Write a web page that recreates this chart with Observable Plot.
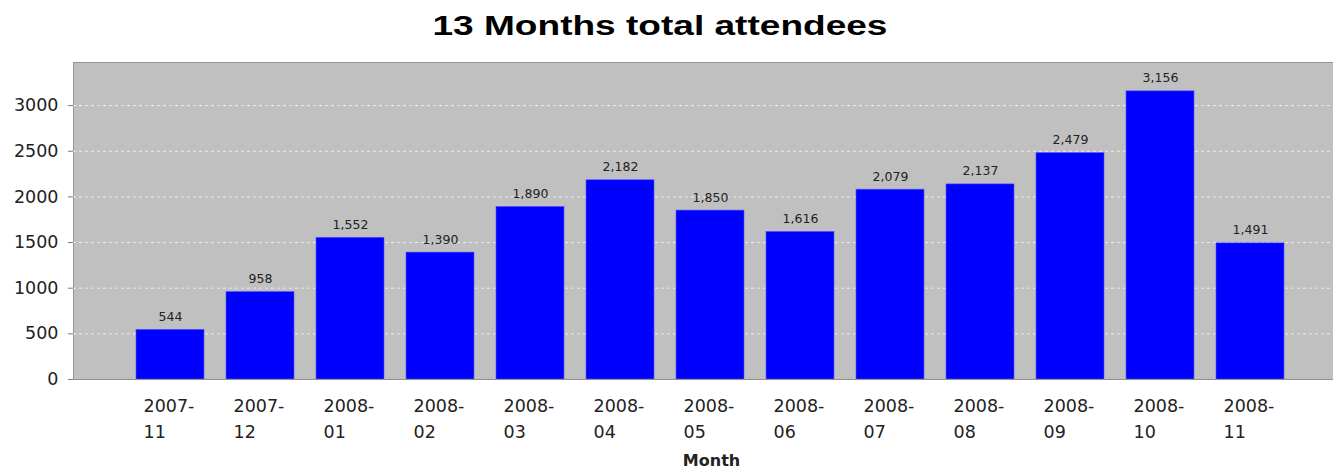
<!DOCTYPE html>
<html>
<head>
<meta charset="utf-8">
<script src="https://cdn.jsdelivr.net/npm/d3@7"></script>
<script src="https://cdn.jsdelivr.net/npm/@observablehq/plot@0.6"></script>
<style>
  html, body { margin: 0; padding: 0; background: #fff; }
  #title { height: 50px; box-sizing: border-box; padding-top: 11px; padding-right: 14px; text-align: center; }
  #title span { display: inline-block; transform: scaleX(1.3); transform-origin: center;
    font: bold 28.5px "Liberation Sans", Arial, sans-serif; line-height: 29px; color: #000; }
  svg { display: block; }
</style>
</head>
<body>
<div id="title"><span>13 Months total attendees</span></div>
<div id="chart"></div>
<script>
const months = ["2007-11","2007-12","2008-01","2008-02","2008-03","2008-04","2008-05","2008-06","2008-07","2008-08","2008-09","2008-10","2008-11"];
const attendees = [544, 958, 1552, 1390, 1890, 2182, 1850, 1616, 2079, 2137, 2479, 3156, 1491];
const yTicks = [0, 500, 1000, 1500, 2000, 2500, 3000];

const data = months.map((m, i) => ({month: m, value: attendees[i]}));
const fmt = d3.format(",");

const chart = Plot.plot({
  width: 1333,
  height: 418,
  marginTop: 12,
  marginBottom: 89,
  marginLeft: 73,
  marginRight: 0,
  style: {fontFamily: "'DejaVu Sans', sans-serif", background: "#fff"},
  x: {domain: months, paddingInner: 0.245, paddingOuter: 0, insetLeft: 63, insetRight: 49},
  y: {domain: [0, 3472]},
  marks: [
    Plot.frame({fill: "#c0c0c0", stroke: "#959595"}),
    Plot.gridY(yTicks.filter(d => d > 0), {stroke: "#ffffff", strokeOpacity: 0.7, strokeDasharray: "3,3", strokeWidth: 1}),
    Plot.barY(data, {x: "month", y: "value", fill: "#0000ff", stroke: "#5050ff", strokeWidth: 0.6}),
    Plot.text(data, {x: "month", y: "value", text: d => fmt(d.value), dy: -9, lineAnchor: "bottom",
      fontSize: 12.5, fill: "#222"}),
    Plot.ruleY([0], {stroke: "#909090"}),
    Plot.axisY({ticks: yTicks, tickSize: 5, tickPadding: 10, fontSize: 17.5, label: null, stroke: "#777", fill: "#222", tickFormat: d => String(d)}),
    Plot.axisX({tickSize: 0, tickPadding: 14, fontSize: 17.5, textAnchor: "start", dx: -27, lineHeight: 1.49,
      tickFormat: d => d.replace("-", "-\n"), fill: "#222", label: null}),
    Plot.text(["Month"], {frameAnchor: "bottom", dx: 8, dy: 86, lineAnchor: "bottom",
      fontSize: 16, fontWeight: "bold", fill: "#222", letterSpacing: "1px"})
  ]
});
document.getElementById("chart").appendChild(chart);
</script>
</body>
</html>
